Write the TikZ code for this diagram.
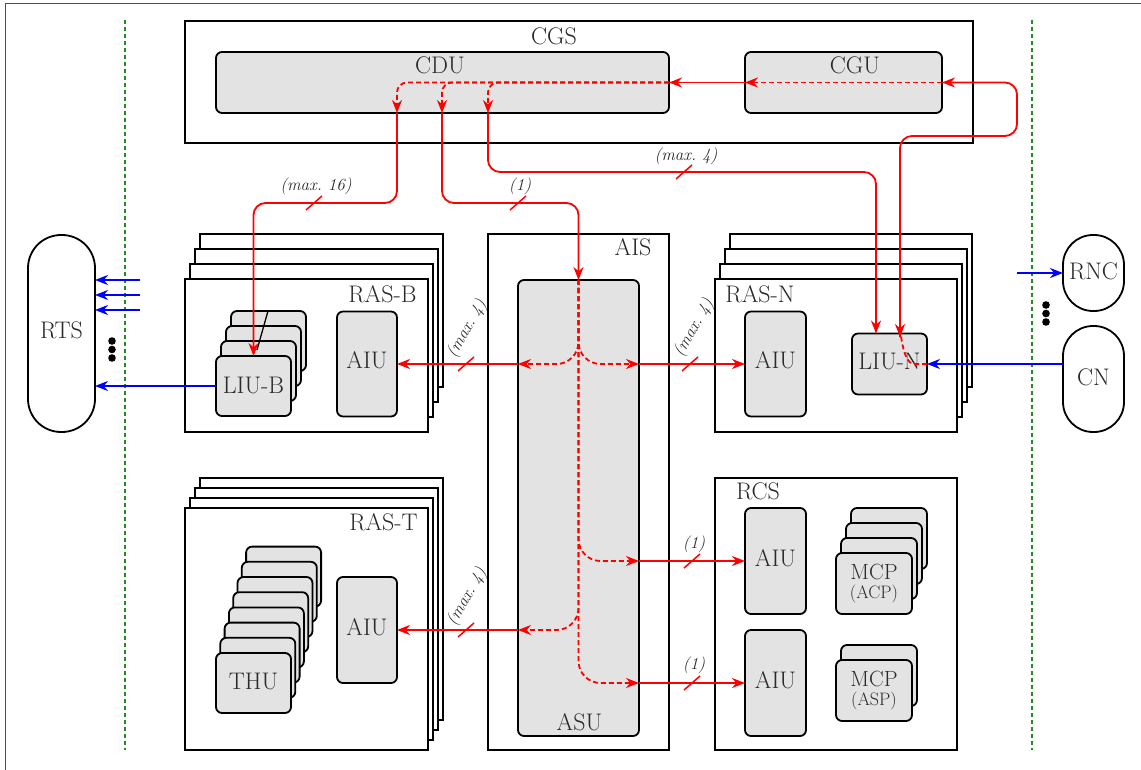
\documentclass[tikz,border=0pt]{standalone}
\usetikzlibrary{arrows.meta,calc}
\definecolor{boxgray}{HTML}{E3E3E3}
\definecolor{txt}{HTML}{2A2A2A}
\definecolor{gline}{HTML}{228B22}
\begin{document}
\begin{tikzpicture}[x=1pt,y=-1pt,
  frame/.style={draw=black, line width=1.8pt, fill=white, inner sep=0pt, outer sep=0pt},
  unit/.style={draw=black, line width=1.8pt, fill=boxgray, rounded corners=6pt, inner sep=0pt, outer sep=0pt},
  pill/.style={draw=black, line width=1.8pt, fill=white, inner sep=0pt, outer sep=0pt},
  lbl/.style={text=txt, font=\fontsize{24}{28}\selectfont, inner sep=0pt},
  note/.style={text=txt, font=\fontsize{17}{19}\selectfont\itshape, inner sep=0pt},
  rsolid/.style={draw=red, line width=1.8pt},
  rdash/.style={draw=red, line width=1.8pt, dash pattern=on 5pt off 3pt},
  tip/.style={-{Stealth[length=13pt,width=10pt]}},
  bline/.style={draw=blue, line width=1.8pt},
  gdash/.style={draw=gline, line width=1.4pt, dash pattern=on 4pt off 3pt},
  slash/.pic={\draw[red, line width=1.5pt] (-8,7) -- (8,-7);}
]
\clip (0,0) rectangle (1141,770);
\fill[white] (0,0) rectangle (1141,770);
\draw[black!70, line width=1pt] (5,780) -- (5,4) -- (1150,4);

% green borders
\draw[gdash] (125,20) -- (125,750);
\draw[gdash] (1032,20) -- (1032,750);

% CGS
\node[frame, minimum width=788, minimum height=122] (CGS) at (579,82) {};
\node[lbl, anchor=base] (tCGS) at (554,45) {CGS};
\node[unit, minimum width=453, minimum height=61] (CDU) at (442.5,82.5) {};
\node[lbl, anchor=base] (tCDU) at (440,74) {CDU};
\node[unit, minimum width=197, minimum height=61] (CGU) at (843.5,82.5) {};
\node[lbl, anchor=base] (tCGU) at (855,74) {CGU};

% RAS-B
\foreach \k in {3,2,1} \draw[line width=1.8pt, fill=white] (185+5*\k,279-15*\k) rectangle ++(243,153);
\node[frame, minimum width=243, minimum height=153] (RASB) at (306.5,355.5) {};
\node[lbl, anchor=base] (tRASB) at (382.5,302) {RAS-B};
\foreach \k in {3,2,1} \draw[line width=1.8pt, fill=boxgray, rounded corners=6pt] (216+5*\k,356-15*\k) rectangle ++(75,60);
\node[unit, minimum width=75, minimum height=60] (LIUB) at (253.5,386) {};
\node[lbl] (tLIUB) at (253.5,385) {LIU-B};
\node[unit, minimum width=60, minimum height=105] (AIUB) at (367,364) {};
\node[lbl] (tAIUB) at (367,360) {AIU};
\draw[line width=1.3pt] (268,311) -- (257,350);

% AIS
\node[frame, minimum width=181, minimum height=516] (AIS) at (578.5,492) {};
\node[lbl, anchor=base] (tAIS) at (633,256) {AIS};
\node[unit, minimum width=121, minimum height=456] (ASU) at (578.5,508) {};
\node[lbl, anchor=base] (tASU) at (579.5,730) {ASU};

% RAS-N
\foreach \k in {3,2,1} \draw[line width=1.8pt, fill=white] (715+5*\k,279-15*\k) rectangle ++(242,153);
\node[frame, minimum width=242, minimum height=153] (RASN) at (836,355.5) {};
\node[lbl, anchor=base] (tRASN) at (760,302) {RAS-N};
\node[unit, minimum width=61, minimum height=105] (AIUN) at (775.5,364) {};
\node[lbl] (tAIUN) at (775.5,360) {AIU};
\node[unit, minimum width=75, minimum height=61] (LIUN) at (889.5,364) {};
\node[lbl] (tLIUN) at (889.5,361) {LIU-N};

% RAS-T
\foreach \k in {3,2,1} \draw[line width=1.8pt, fill=white] (185+5*\k,508-10*\k) rectangle ++(243,242);
\node[frame, minimum width=243, minimum height=242] (RAST) at (306.5,629) {};
\node[lbl, anchor=base] (tRAST) at (383.5,530) {RAS-T};
\foreach \k in {7,6,...,1} \draw[line width=1.8pt, fill=boxgray, rounded corners=6pt] (216+4.3*\k,653-15.2*\k) rectangle ++(75,60);
\node[unit, minimum width=75, minimum height=60] (THU) at (253.5,683) {};
\node[lbl] (tTHU) at (253.5,681) {THU};
\node[unit, minimum width=60, minimum height=106] (AIUT) at (367,630) {};
\node[lbl] (tAIUT) at (367,627) {AIU};

% RCS
\node[frame, minimum width=242, minimum height=272] (RCS) at (836,614) {};
\node[lbl, anchor=base] (tRCS) at (758,499) {RCS};
\node[unit, minimum width=61, minimum height=106] (AIUC1) at (775.5,561) {};
\node[lbl] (tAIUC1) at (775.5,558) {AIU};
\node[unit, minimum width=61, minimum height=106] (AIUC2) at (775.5,683) {};
\node[lbl] (tAIUC2) at (775.5,680) {AIU};
\foreach \k in {3,2,1} \draw[line width=1.8pt, fill=boxgray, rounded corners=6pt] (836+5*\k,553-15*\k) rectangle ++(76,61);
\node[unit, minimum width=76, minimum height=61] (MCPA) at (874,583.5) {};
\node[lbl, align=center, font=\fontsize{22}{26}\selectfont] (tMCPA) at (874,583.5) {MCP\\[-7pt]{\fontsize{18}{21}\selectfont(ACP)}};
\draw[line width=1.8pt, fill=boxgray, rounded corners=6pt] (841,645) rectangle ++(76,61);
\node[unit, minimum width=76, minimum height=61] (MCPS) at (874,690.5) {};
\node[lbl, align=center, font=\fontsize{22}{26}\selectfont] (tMCPS) at (874,690.5) {MCP\\[-7pt]{\fontsize{18}{21}\selectfont(ASP)}};

% side terminals
\node[pill, rounded corners=33pt, minimum width=67, minimum height=197] (RTS) at (61.5,333.5) {};
\node[lbl] (tRTS) at (61.5,330) {RTS};
\node[pill, rounded corners=30pt, minimum width=61, minimum height=76] (RNC) at (1093.5,273) {};
\node[lbl] (tRNC) at (1093.5,271) {RNC};
\node[pill, rounded corners=30pt, minimum width=61, minimum height=106] (CN) at (1093.5,379) {};
\node[lbl] (tCN) at (1093.5,377) {CN};

% dots
\foreach \y in {341,349.5,358} \fill[black] (112,\y) circle (3.8pt);
\foreach \y in {305,313.5,322} \fill[black] (1046,\y) circle (3.8pt);

% blue connectors
\coordinate (r1) at (140,280);
\coordinate (r2) at (140,295);
\coordinate (r3) at (140,310);
\foreach \r in {r1,r2,r3} \draw[bline,tip] (\r) -- (\r -| RTS.east);
\draw[bline,tip] (LIUB.west) -- (LIUB.west -| RTS.east);
\coordinate (rn) at (1017,273);
\draw[bline,tip] (rn) -- (RNC.west);
\draw[bline,tip] (CN.west |- LIUN.east) -- (LIUN.east);

% red: LIU-N -> CGU -> CDU
\coordinate (nUp) at (900,337);
\draw[rdash,tip] (LIUN.east) -- (914,364) to[out=180,in=90] (nUp);
\draw[rsolid,tip,rounded corners=12pt] (nUp) -- (900,136) -- (1017,136) -- (1017,82.5) -- (CGU.east);
\draw[rdash,tip] (CGU.east) -- (CGU.west);
\draw[rsolid,tip] (CGU.west) -- (CDU.east);
\coordinate (b1) at (397,113);
\coordinate (b2) at (442,113);
\coordinate (b3) at (488,113);
\foreach \b in {b1,b2,b3} \draw[rdash,tip,rounded corners=10pt] (CDU.east) -| (\b);
\coordinate (lnIn) at (876,333.5);
\draw[rsolid,tip,rounded corners=12pt] (b1) -- (397,203) -| (LIUB.north);
\draw[rsolid,tip,rounded corners=12pt] (b2) -- (442,203) -| (ASU.north);
\draw[rsolid,tip,rounded corners=12pt] (b3) -- (488,172) -| (lnIn);
\pic at (314,203) {slash};
\pic at (518,203) {slash};
\pic at (684,172) {slash};
\node[note] (n16) at (316,186) {(max.~16)};
\node[note] (n1a) at (520,186) {(1)};
\node[note] (n4a) at (686,156) {(max.~4)};

% red: ASU distribution
\draw[rdash,tip,rounded corners=22pt] (ASU.north) |- (ASU.west |- AIUB.east);
\draw[rdash,tip,rounded corners=22pt] (ASU.north) |- (ASU.east |- AIUN.west);
\draw[rdash,tip,rounded corners=22pt] (ASU.north) |- (ASU.east |- AIUC1.west);
\draw[rdash,tip,rounded corners=22pt] (ASU.north) |- (ASU.west |- AIUT.east);
\draw[rdash,tip,rounded corners=22pt] (ASU.north) |- (ASU.east |- AIUC2.west);
\draw[rsolid,tip] (ASU.west |- AIUB.east) -- (AIUB.east);
\draw[rsolid,tip] (ASU.east |- AIUN.west) -- (AIUN.west);
\draw[rsolid,tip] (ASU.east |- AIUC1.west) -- (AIUC1.west);
\draw[rsolid,tip] (ASU.west |- AIUT.east) -- (AIUT.east);
\draw[rsolid,tip] (ASU.east |- AIUC2.west) -- (AIUC2.west);
\pic at (466,364) {slash};
\pic at (690,364) {slash};
\pic at (692,561) {slash};
\pic at (466,630) {slash};
\pic at (692,683) {slash};
\node[note, rotate=60] (n4b) at (467,329) {(max.~4)};
\node[note, rotate=60] (n4c) at (694,328) {(max.~4)};
\node[note, rotate=60] (n4d) at (467,597) {(max.~4)};
\node[note] (n1b) at (694,544) {(1)};
\node[note] (n1c) at (694,665) {(1)};
\end{tikzpicture}
\end{document}
